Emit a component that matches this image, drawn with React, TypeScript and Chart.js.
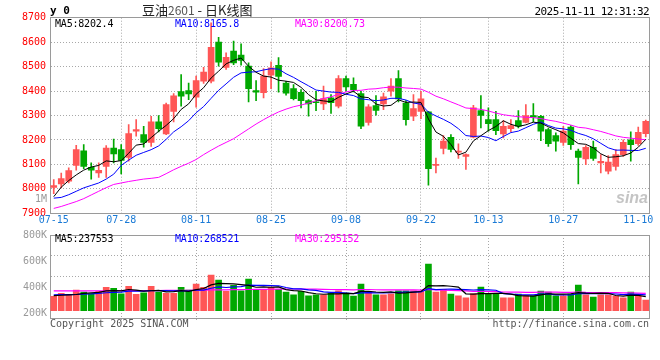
import React, { useEffect, useRef } from 'react';
import { Chart, registerables } from 'chart.js';

Chart.register(...registerables);

const DATES = [
  '07-15','07-16','07-17','07-18','07-21','07-22','07-23','07-24','07-25','07-28',
  '07-29','07-30','07-31','08-01','08-04','08-05','08-06','08-07','08-08','08-11',
  '08-12','08-13','08-14','08-15','08-18','08-19','08-20','08-21','08-22','08-25',
  '08-26','08-27','08-28','08-29','09-01','09-02','09-03','09-04','09-05','09-08',
  '09-09','09-10','09-11','09-12','09-15','09-16','09-17','09-18','09-19','09-22',
  '09-23','09-24','09-25','09-26','09-29','09-30','10-09','10-10','10-13','10-14',
  '10-15','10-16','10-17','10-20','10-21','10-22','10-23','10-24','10-27','10-28',
  '10-29','10-30','10-31','11-03','11-04','11-05','11-06','11-07','11-10','11-11',
];

const TICK_LABELS = ['07-15','07-28','08-11','08-25','09-08','09-22','10-13','10-27','11-10'];
const GRID_DATES = ['07-28','08-11','08-25','09-08','09-22','10-13','10-27'];

const OPEN = [
  8006,8020,8031,8096,8156,8088,8065,8092,8167,8161,
  8129,8236,8222,8190,8274,8225,8317,8398,8402,8375,
  8440,8440,8600,8497,8563,8547,8502,8402,8393,8465,
  8505,8433,8410,8395,8361,8356,8347,8372,8338,8451,
  8427,8390,8272,8341,8347,8399,8451,8351,8297,8317,
  8315,8096,8165,8211,8150,8133,8211,8320,8283,8283,
  8225,8246,8279,8272,8300,8297,8242,8218,8190,8253,
  8154,8122,8170,8106,8072,8092,8140,8201,8185,8226,
];
const HIGH = [
  8038,8065,8086,8178,8181,8106,8106,8177,8204,8181,
  8263,8283,8256,8297,8300,8351,8390,8467,8433,8461,
  8497,8679,8620,8556,8604,8593,8515,8443,8492,8519,
  8537,8440,8426,8406,8365,8399,8420,8386,8463,8461,
  8454,8399,8345,8381,8392,8451,8484,8361,8386,8399,
  8317,8126,8218,8222,8184,8143,8342,8381,8331,8317,
  8279,8283,8320,8345,8349,8301,8249,8229,8256,8259,
  8163,8177,8195,8140,8136,8161,8201,8233,8253,8281,
];
const LOW = [
  7980,8004,8024,8076,8083,8040,8047,8047,8106,8061,
  8113,8215,8170,8174,8233,8222,8274,8338,8365,8334,
  8431,8433,8502,8488,8508,8506,8356,8361,8372,8410,
  8395,8383,8364,8331,8297,8320,8324,8308,8331,8400,
  8396,8246,8260,8301,8324,8379,8356,8260,8279,8287,
  8015,8065,8143,8151,8124,8079,8208,8249,8236,8222,
  8208,8233,8249,8270,8274,8197,8174,8154,8178,8161,
  8020,8099,8116,8065,8061,8076,8133,8113,8178,8212,
];
const CLOSE = [
  8013,8042,8075,8161,8092,8076,8076,8167,8143,8116,
  8226,8242,8190,8274,8246,8345,8380,8379,8388,8443,
  8478,8579,8518,8538,8515,8525,8410,8395,8461,8495,
  8460,8391,8369,8361,8347,8352,8369,8352,8451,8417,
  8406,8256,8335,8321,8376,8420,8368,8283,8328,8368,
  8083,8100,8195,8161,8154,8140,8331,8300,8267,8238,
  8256,8259,8256,8300,8293,8236,8185,8195,8236,8181,
  8129,8170,8124,8113,8109,8140,8190,8181,8231,8276,
];

const MA5 = [
  7968,8007,8034,8057,8076.6,8089.2,8096.0,8114.4,8110.8,8115.6,
  8145.6,8178.8,8183.4,8209.6,8235.6,8259.4,8287.0,8324.8,8347.6,8387.0,
  8413.6,8453.4,8481.2,8511.2,8525.6,8535.0,8501.2,8476.6,8461.2,8457.2,
  8444.2,8440.4,8435.2,8415.2,8385.6,8364.0,8359.6,8356.2,8374.2,8388.2,
  8399.0,8376.4,8373.0,8347.0,8338.8,8341.6,8364.0,8353.6,8355.0,8353.4,
  8286.0,8232.4,8214.8,8181.4,8138.6,8150.0,8196.2,8217.2,8238.4,8255.2,
  8278.4,8264.0,8255.2,8261.8,8272.8,8268.8,8254.0,8241.8,8229.0,8206.6,
  8185.2,8182.2,8168.0,8143.4,8129.0,8131.2,8135.2,8146.6,8170.2,8202.4,
];
const MA10 = [
  7962,7965,7976,7990,8004,8014,8024,8040,8060,8096.1,
  8117.4,8137.4,8148.9,8160.2,8175.6,8202.5,8232.9,8254.1,8278.6,8311.3,
  8336.5,8370.2,8403.0,8429.4,8456.3,8474.3,8477.3,8478.9,8486.2,8491.4,
  8489.6,8470.8,8455.9,8438.2,8421.4,8404.1,8400.0,8395.7,8394.7,8386.9,
  8381.5,8368.0,8364.6,8360.6,8363.5,8370.3,8370.2,8363.3,8351.0,8346.1,
  8313.8,8298.2,8284.2,8268.2,8246.0,8218.0,8214.3,8216.0,8209.9,8196.9,
  8214.2,8230.1,8236.2,8250.1,8264.0,8273.6,8259.0,8248.5,8245.4,8239.7,
  8227.0,8218.1,8204.9,8186.2,8167.8,8158.2,8158.7,8157.3,8156.8,8165.8,
];
const MA30 = [
  7920,7928,7938,7948,7960,7975,7990,8005,8018,8024,
  8030,8035,8040,8043,8047,8062,8078,8092,8105,8120,
  8140,8158,8175,8190,8205,8225,8245,8265,8283,8299.6,
  8314.5,8326.1,8335.9,8342.6,8351.1,8360.3,8370.1,8376.2,8386.5,8396.5,
  8402.5,8403.0,8407.8,8409.4,8413.7,8416.2,8415.8,8412.6,8410.6,8408.1,
  8395.0,8379.0,8368.2,8355.7,8343.6,8330.8,8328.2,8325.0,8318.5,8310.0,
  8303.2,8298.8,8295.0,8293.0,8291.2,8287.3,8281.2,8276.0,8268.8,8260.9,
  8251.7,8248.8,8241.8,8234.8,8225.9,8216.6,8210.7,8207.3,8204.0,8200.73,
];

const VOLUME = [
  243000,293000,271000,350000,316000,288000,327000,395000,378000,288000,
  412000,276000,305000,412000,316000,293000,293000,395000,350000,451000,
  395000,603000,519000,327000,429000,338000,536000,361000,361000,395000,
  361000,316000,271000,327000,254000,271000,271000,299000,338000,299000,
  248000,451000,316000,271000,271000,288000,338000,338000,338000,327000,
  790000,316000,361000,282000,254000,220000,288000,400000,282000,282000,
  220000,220000,282000,254000,254000,333000,316000,254000,254000,282000,
  434000,271000,231000,271000,271000,248000,220000,316000,243000,180000,
];
const VOL_MA5 = [
  255000,262000,268000,275000,294600,303600,310400,335200,340800,335200,
  360000,349800,331800,338600,344200,320400,323800,341800,329400,356400,
  376800,438800,463600,459000,454600,443200,429800,398200,405000,398200,
  402800,358800,340800,334000,305800,287800,278800,284400,286600,295600,
  291000,327000,330400,317000,311400,319400,296800,301200,314600,325800,
  426200,421800,426400,415200,400600,286600,281000,288800,288800,294400,
  294400,280800,257200,251600,246000,268600,287800,282200,282200,287800,
  308000,299000,294400,297800,295600,258400,248200,265200,259600,237553,
];
const VOL_MA10 = [
  270000,272000,273000,275000,280000,285000,295000,305000,310000,314900,
  331800,330100,333500,339700,339700,340200,336800,336800,334000,350300,
  348600,381300,402700,394200,405500,410000,434300,430900,432000,426400,
  423000,394300,369500,369500,352000,345300,318800,312600,310300,300700,
  289400,302900,307400,301800,303500,305200,311900,315800,315800,318600,
  372800,359300,363800,364900,363200,356400,351400,357600,352000,347500,
  290500,280900,273000,270200,270200,281500,284300,269700,266900,266900,
  288300,293400,288300,290000,291700,283200,273600,279800,278700,268521,
];
const VOL_MA30 = [
  336000,336000,337000,337000,338000,338000,339000,339000,340000,340000,
  341000,341000,342000,343000,343000,344000,345000,346000,347000,348000,
  350000,352000,354000,355000,357000,358000,360000,361000,362000,363900,
  367800,368600,368600,367800,365700,365200,363300,360100,358800,359100,
  353700,359500,359900,355200,353700,353500,355000,353100,352700,348600,
  361700,352200,346900,345400,339600,335600,327400,328700,326000,322300,
  317600,314400,314700,312300,312300,314400,315900,314400,311600,311000,
  317200,311200,308400,308400,308400,307000,303100,302400,299200,295152,
];

const PRICE_TICK_MIN = 7900;
const PRICE_TICK_MAX = 8700;
const VOL_LABEL_TICKS = [800000, 600000, 400000, 200000];
const VOL_LABEL_TICKS_UPPER = [1000000];

const RED = '#ff5656';
const GREEN = '#00a800';
const GRID = '#a8a8a8';
const FRAME = '#9a9a9a';
const NONE = 'rgba(0,0,0,0)';
const MONO = '"DejaVu Sans Mono", monospace';

const fmtVol = (v: number) => (v >= 1000000 ? v / 1000000 + 'M' : v / 1000 + 'K');
const setW = (w: number) => (s: any) => { s.width = w; };
const setH = (h: number) => (s: any) => { s.height = h; };

export default function App() {
  const priceRef = useRef<HTMLCanvasElement>(null);
  const volRef = useRef<HTMLCanvasElement>(null);

  useEffect(() => {
    Chart.defaults.font.family = MONO;
    Chart.defaults.font.size = 10;
    const colors = CLOSE.map((c, i) => (c >= OPEN[i] ? RED : GREEN));

    const xGridColor = (ctx: any) => (GRID_DATES.includes(DATES[ctx.index]) ? GRID : NONE);

    const common: any = {
      responsive: false,
      animation: false,
      devicePixelRatio: 1,
      events: [],
      plugins: { legend: { display: false }, tooltip: { enabled: false }, title: { display: false } },
    };

    const pc = new Chart(priceRef.current!, {
      type: 'bar',
      data: {
        labels: DATES,
        datasets: [
          { type: 'line', data: MA5, borderColor: '#000000', borderWidth: 1, pointRadius: 0, tension: 0, order: 0, xAxisID: 'x', yAxisID: 'y' } as any,
          { type: 'line', data: MA10, borderColor: '#0000ff', borderWidth: 1, pointRadius: 0, tension: 0, order: 0, xAxisID: 'x', yAxisID: 'y' } as any,
          { type: 'line', data: MA30, borderColor: '#ff00ff', borderWidth: 1, pointRadius: 0, tension: 0, order: 0, xAxisID: 'x', yAxisID: 'y' } as any,
          { type: 'bar', data: OPEN.map((o, i) => [o, CLOSE[i]]), backgroundColor: colors, borderWidth: 0, barThickness: 6, grouped: false, minBarLength: 1, order: 1, xAxisID: 'x', yAxisID: 'y' } as any,
          { type: 'bar', data: LOW.map((l, i) => [l, HIGH[i]]), backgroundColor: colors, borderWidth: 0, barThickness: 1, grouped: false, order: 2, xAxisID: 'x', yAxisID: 'y' } as any,
        ],
      },
      options: {
        ...common,
        layout: { padding: { left: 0, right: 10.5, top: 17.7, bottom: 0 } },
        scales: {
          y: {
            type: 'linear', position: 'left', min: PRICE_TICK_MIN, max: PRICE_TICK_MAX, weight: 1,
            afterFit: setW(50),
            ticks: { stepSize: 100, color: '#ff0000', padding: 4, font: { family: MONO, size: 10 }, callback: (v: any) => String(v) },
            grid: { drawTicks: false, color: (ctx: any) => { const v = ctx.tick && ctx.tick.value; return v > PRICE_TICK_MIN && v < PRICE_TICK_MAX ? GRID : NONE; } },
            border: { display: true, color: FRAME, dash: [1, 2] },
          },
          yVolUpper: {
            type: 'linear', position: 'left', min: 950000, max: 1675000, weight: 0,
            afterFit: setW(0),
            afterBuildTicks: (s: any) => { s.ticks = VOL_LABEL_TICKS_UPPER.map((v) => ({ value: v })); },
            ticks: { mirror: true, crossAlign: 'near', color: '#999999', padding: -15, font: { family: MONO, size: 10 }, callback: (v: any) => fmtVol(v) },
            grid: { display: false, drawTicks: false },
            border: { display: false },
          },
          yRight: {
            type: 'linear', position: 'right', min: PRICE_TICK_MIN, max: PRICE_TICK_MAX,
            afterFit: setW(0),
            ticks: { display: false },
            grid: { display: false, drawTicks: false },
            border: { display: true, color: FRAME },
          },
          x: {
            type: 'category', position: 'bottom', offset: true,
            afterFit: setH(18.7),
            ticks: {
              autoSkip: false, maxRotation: 0, minRotation: 0, padding: 1, color: '#1a7ad6',
              font: { family: MONO, size: 10 },
              callback: (_v: any, i: number) => (TICK_LABELS.includes(DATES[i]) ? DATES[i] : ''),
            },
            grid: { offset: false, drawTicks: false, color: xGridColor },
            border: { display: true, color: FRAME, dash: [1, 2] },
          },
          xTop: {
            type: 'category', position: 'top', offset: true,
            afterFit: setH(0),
            ticks: { display: false },
            grid: { display: false, drawTicks: false },
            border: { display: true, color: FRAME },
          },
        },
      } as any,
    });

    const vc = new Chart(volRef.current!, {
      type: 'bar',
      data: {
        labels: DATES,
        datasets: [
          { type: 'line', data: VOL_MA5, borderColor: '#000000', borderWidth: 1.2, pointRadius: 0, tension: 0, order: 0, xAxisID: 'x', yAxisID: 'y' } as any,
          { type: 'line', data: VOL_MA10, borderColor: '#0000ff', borderWidth: 1.2, pointRadius: 0, tension: 0, order: 0, xAxisID: 'x', yAxisID: 'y' } as any,
          { type: 'line', data: VOL_MA30, borderColor: '#ff00ff', borderWidth: 1.2, pointRadius: 0, tension: 0, order: 0, xAxisID: 'x', yAxisID: 'y' } as any,
          { type: 'bar', data: VOLUME, backgroundColor: colors, borderWidth: 0, barThickness: 6, grouped: false, order: 1, xAxisID: 'x', yAxisID: 'y' } as any,
        ],
      },
      options: {
        ...common,
        layout: { padding: { left: 0, right: 10.5, top: 8.6, bottom: 0 } },
        scales: {
          yLabel: {
            type: 'linear', position: 'left', min: 161700, max: 800000, weight: 1,
            afterFit: setW(50),
            afterBuildTicks: (s: any) => { s.ticks = VOL_LABEL_TICKS.map((v) => ({ value: v })); },
            ticks: { color: '#999999', padding: 3, font: { family: MONO, size: 10 }, callback: (v: any) => fmtVol(v) },
            grid: { display: false, drawTicks: false },
            border: { display: false },
          },
          y: {
            type: 'linear', position: 'left', min: -124000, max: 1285000, weight: 0,
            afterFit: setW(0),
            ticks: { display: false, count: 5 },
            grid: { drawTicks: false, color: (ctx: any) => (ctx.index === 2 || ctx.index === 3 ? GRID : NONE) },
            border: { display: true, color: FRAME, dash: [1, 2] },
          },
          yRight: {
            type: 'linear', position: 'right', min: 0, max: 1,
            afterFit: setW(0),
            ticks: { display: false },
            grid: { display: false, drawTicks: false },
            border: { display: true, color: FRAME },
          },
          x: {
            type: 'category', position: 'bottom', offset: true,
            afterFit: setH(18),
            ticks: { display: false, autoSkip: false },
            grid: { offset: false, drawTicks: true, tickLength: 4, color: xGridColor, tickColor: xGridColor, tickBorderDash: [1, 2] },
            border: { display: true, color: FRAME, dash: [1, 2] },
          },
          xTop: {
            type: 'category', position: 'top', offset: true,
            afterFit: setH(0),
            ticks: { display: false },
            grid: { display: false, drawTicks: false },
            border: { display: true, color: FRAME },
          },
        },
      } as any,
    });

    return () => { pc.destroy(); vc.destroy(); };
  }, []);

  const abs = (extra: any) => ({ position: 'absolute', whiteSpace: 'nowrap', ...extra });
  const legendFont = `10px ${MONO}`;

  return (
    <div style={{ position: 'absolute', left: 0, top: 0, width: 660, height: 360, background: '#ffffff', overflow: 'hidden' }}>
      <canvas ref={priceRef} width={660} height={232} style={{ position: 'absolute', left: 0, top: 0 }} />
      <canvas ref={volRef} width={660} height={110} style={{ position: 'absolute', left: 0, top: 226 }} />

      <div style={abs({ left: 50, top: 5, font: `bold 11px ${MONO}`, lineHeight: '11px', color: '#000' })}>y 0</div>
      <div style={abs({ left: 142, top: 2, font: '13px "Noto Sans CJK SC"', lineHeight: '15px', color: '#222' })}>
        豆油<span style={{ color: '#555', fontSize: 12 }}>2601</span> - 日K线图
      </div>
      <div style={abs({ right: 11, top: 6, font: `11px ${MONO}`, letterSpacing: '-0.6px', lineHeight: '11px', color: '#000' })}>2025-11-11 12:31:32</div>

      <div style={abs({ left: 55, top: 19, font: legendFont, letterSpacing: '-0.2px', lineHeight: '10px', color: '#000000' })}>MA5:8202.4</div>
      <div style={abs({ left: 175, top: 19, font: legendFont, letterSpacing: '-0.2px', lineHeight: '10px', color: '#0000ff' })}>MA10:8165.8</div>
      <div style={abs({ left: 295, top: 19, font: legendFont, letterSpacing: '-0.2px', lineHeight: '10px', color: '#ff00ff' })}>MA30:8200.73</div>

      <div style={abs({ left: 55, top: 234, font: legendFont, letterSpacing: '-0.2px', lineHeight: '10px', color: '#000000' })}>MA5:237553</div>
      <div style={abs({ left: 175, top: 234, font: legendFont, letterSpacing: '-0.2px', lineHeight: '10px', color: '#0000ff' })}>MA10:268521</div>
      <div style={abs({ left: 295, top: 234, font: legendFont, letterSpacing: '-0.2px', lineHeight: '10px', color: '#ff00ff' })}>MA30:295152</div>

      <div style={abs({ left: 616, top: 190, font: 'italic bold 16px "Liberation Sans"', lineHeight: '16px', color: '#c4c4c4' })}>sina</div>

      <div style={abs({ left: 50, top: 318.5, font: `10px ${MONO}`, lineHeight: '10px', color: '#555555' })}>Copyright 2025 SINA.COM</div>
      <div style={abs({ right: 11, top: 318.5, font: `10px ${MONO}`, lineHeight: '10px', color: '#555555' })}>http://finance.sina.com.cn</div>
    </div>
  );
}
